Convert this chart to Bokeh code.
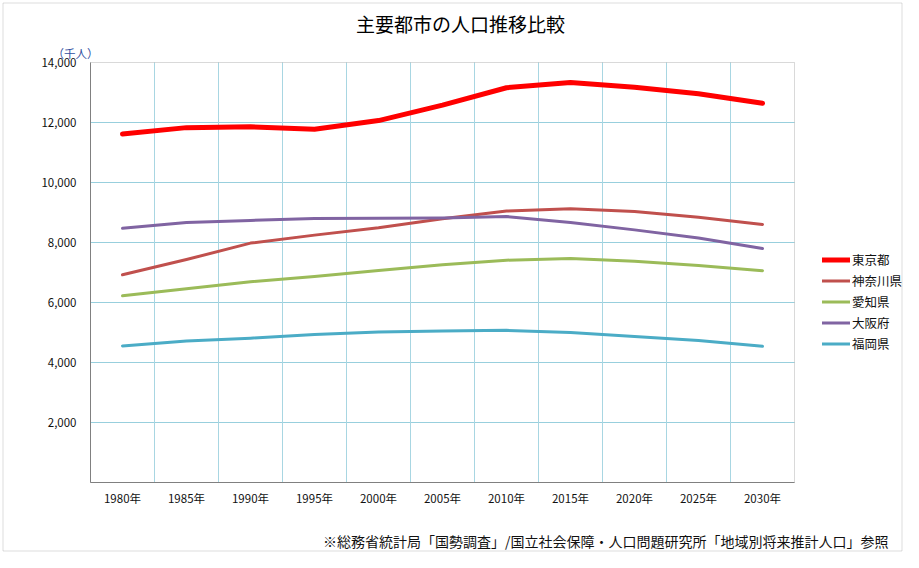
from bokeh.plotting import figure
from bokeh.models import (Range1d, FixedTicker, NumeralTickFormatter, Legend,
                          LegendItem, Label, BoxAnnotation)
from bokeh.embed import file_html
from bokeh.resources import INLINE

# ---- data ----
years = [1980, 1985, 1990, 1995, 2000, 2005, 2010, 2015, 2020, 2025, 2030]
year_labels = ["1980年", "1985年", "1990年", "1995年", "2000年", "2005年",
               "2010年", "2015年", "2020年", "2025年", "2030年"]
tokyo = [11618, 11829, 11856, 11774, 12064, 12577, 13159, 13330, 13176, 12957, 12640]
kanagawa = [6924, 7432, 7980, 8246, 8490, 8792, 9048, 9122, 9036, 8838, 8603]
aichi = [6222, 6455, 6691, 6868, 7070, 7260, 7411, 7469, 7374, 7232, 7060]
osaka = [8473, 8668, 8735, 8797, 8805, 8817, 8865, 8667, 8421, 8150, 7800]
fukuoka = [4553, 4719, 4811, 4933, 5016, 5050, 5072, 5000, 4867, 4733, 4540]
series_names = ["東京都", "神奈川県", "愛知県", "大阪府", "福岡県"]
series_values = [tokyo, kanagawa, aichi, osaka, fukuoka]
y_ticks = [0, 2000, 4000, 6000, 8000, 10000, 12000, 14000]
title_text = "主要都市の人口推移比較"
unit_text = "（千人）"
source_text = "※総務省統計局「国勢調査」/国立社会保障・人口問題研究所「地域別将来推計人口」参照"

colors = ["#FF0000", "#C0504D", "#9BBB59", "#8064A2", "#4BACC6"]
widths = [5, 3, 3, 3, 3]
FONT = "Noto Sans CJK JP"

# ---- layout (pixels) ----
W, H = 903, 552
PL, PR, PT, PB = 90, 794, 62, 482          # plot area in canvas pixels
X0, X1 = 1977.5, 2032.5
Y0, Y1 = 0, 14000
sx = (PR - PL) / (X1 - X0)
sy = (PB - PT) / (Y1 - Y0)


def px2x(px):
    return X0 + (px - PL) / sx


def px2y(py):
    return Y1 - (py - PT) / sy


p = figure(width=W, height=H, output_backend="svg", toolbar_location=None,
           x_range=Range1d(px2x(0), px2x(W)), y_range=Range1d(px2y(H), px2y(0)),
           min_border_left=0, min_border_right=0, min_border_top=0,
           min_border_bottom=0)
p.title.visible = False
p.outline_line_color = None
p.xgrid.visible = False
p.ygrid.visible = False

# axes drawn inside the full-canvas frame
p.xaxis.ticker = FixedTicker(ticks=years)
p.xaxis.major_label_overrides = {y: l for y, l in zip(years, year_labels)}
p.xaxis.bounds = (X0, X1)
p.xaxis.fixed_location = Y0
p.yaxis.ticker = FixedTicker(ticks=y_ticks)
p.yaxis.formatter = NumeralTickFormatter(format="0,0")
p.yaxis.major_label_overrides = {0: ""}
p.yaxis.bounds = (Y0, Y1)
p.yaxis.fixed_location = X0
for ax in (p.xaxis[0], p.yaxis[0]):
    ax.axis_line_color = "#808080"
    ax.major_tick_line_color = None
    ax.minor_tick_line_color = None
    ax.major_label_text_font = FONT
    ax.major_label_text_font_size = "11.5px"
    ax.major_label_text_color = "#111111"
p.xaxis.major_label_standoff = 1
p.yaxis.major_label_standoff = 8

# grid lines limited to the plot area
hy = y_ticks[1:-1]
p.segment(x0=[X0] * len(hy), y0=hy, x1=[X1] * len(hy), y1=hy,
          line_color="#98CFDD", line_width=1, level="underlay")
vx = [y + 2.5 for y in years[:-1]]
p.segment(x0=vx, y0=[Y0] * len(vx), x1=vx, y1=[Y1] * len(vx),
          line_color="#A8D6E2", line_width=1, level="underlay")

# plot-area border and outer chart border
p.add_layout(BoxAnnotation(left=X0, right=X1, bottom=Y0, top=Y1, fill_alpha=0,
                           line_color="#808080", line_width=1, level="underlay"))
p.add_layout(BoxAnnotation(left=px2x(2.5), right=px2x(W - 1.5), bottom=px2y(H - 1.5),
                           top=px2y(2.5), fill_alpha=0,
                           line_color="#8C8C8C", line_width=1, level="underlay"))

items = []
for name, vals, c, w in zip(series_names, series_values, colors, widths):
    r = p.line(years, vals, line_color=c, line_width=w, line_join="round", line_cap="round")
    items.append(LegendItem(label=name, renderers=[r]))

legend = Legend(items=items, location=(822, H - 353.5), padding=0, spacing=0, margin=0,
                glyph_width=28, glyph_height=21, label_height=21, label_standoff=2,
                border_line_color=None, background_fill_alpha=0,
                label_text_font=FONT, label_text_font_size="12.5px",
                label_text_color="#111111")
p.add_layout(legend, "center")

# texts
p.add_layout(Label(x=px2x(460), y=px2y(23), text=title_text, text_align="center",
                   text_baseline="middle", text_font=FONT, text_font_size="19px",
                   text_color="#000000"))
p.add_layout(Label(x=px2x(75), y=px2y(52), text=unit_text, text_align="center",
                   text_baseline="middle", text_font=FONT, text_font_size="11.5px",
                   text_color="#2F4F9F"))
p.add_layout(Label(x=px2x(888), y=px2y(540), text=source_text, text_align="right",
                   text_baseline="middle", text_font=FONT, text_font_size="14px",
                   text_color="#111111"))

open("out.html", "w").write(file_html(p, INLINE))
